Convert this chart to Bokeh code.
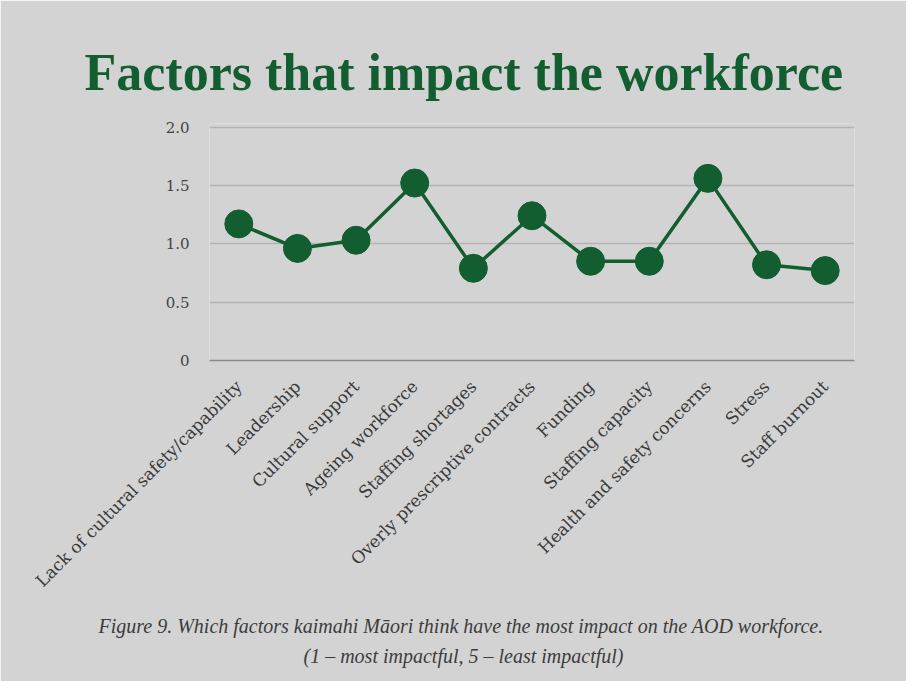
import math
from bokeh.plotting import figure
from bokeh.models import FactorRange, Range1d, FixedTicker, Title
from bokeh.embed import file_html
from bokeh.resources import INLINE

factors = [
    "Lack of cultural safety/capability",
    "Leadership",
    "Cultural support",
    "Ageing workforce",
    "Staffing shortages",
    "Overly prescriptive contracts",
    "Funding",
    "Staffing capacity",
    "Health and safety concerns",
    "Stress",
    "Staff burnout",
]
scores = [1.17, 0.96, 1.03, 1.52, 0.79, 1.24, 0.85, 0.85, 1.56, 0.82, 0.77]
y_ticks = [0, 0.5, 1.0, 1.5, 2.0]
y_tick_labels = ["0", "0.5", "1.0", "1.5", "2.0"]

title_text = "Factors that impact the workforce"
caption_1 = "Figure 9. Which factors kaimahi Māori think have the most impact on the AOD workforce."
caption_2 = "(1 – most impactful, 5 – least impactful)"

BG = "#d3d3d3"
GREEN = "#135e30"

p = figure(
    width=906, height=681,
    x_range=FactorRange(*factors, range_padding=0),
    y_range=Range1d(0, 2.03),
    output_backend="svg", toolbar_location=None,
    min_border_left=209, min_border_right=52,
    min_border_top=123, min_border_bottom=321,
    border_fill_color=BG, background_fill_color=BG,
    outline_line_color=None,
)

p.line(factors, scores, line_color=GREEN, line_width=3.5)
p.scatter(factors, scores, size=28, fill_color=GREEN, line_color=GREEN)

# grid
p.xgrid.grid_line_color = None
p.ygrid.grid_line_color = "#b3b3b3"
p.ygrid.grid_line_width = 1.5
p.yaxis.ticker = FixedTicker(ticks=y_ticks)
p.yaxis.major_label_overrides = {t: l for t, l in zip(y_ticks, y_tick_labels)}

# y axis
p.yaxis.axis_line_color = None
p.yaxis.major_tick_line_color = None
p.yaxis.minor_tick_line_color = None
p.yaxis.major_label_standoff = 14
p.yaxis.major_label_text_font = "DejaVu Serif"
p.yaxis.major_label_text_font_size = "15px"
p.yaxis.major_label_text_color = "#444444"

# x axis
p.xaxis.axis_line_color = "#8a8a8a"
p.xaxis.axis_line_width = 1.5
p.xaxis.major_tick_line_color = None
p.xaxis.minor_tick_line_color = None
p.xaxis.major_label_orientation = math.pi / 4
p.xaxis.major_label_standoff = 17
p.xaxis.major_label_text_font = "DejaVu Serif"
p.xaxis.major_label_text_font_size = "17px"
p.xaxis.major_label_text_color = "#3a3a3a"

# title
p.title.text = title_text
p.title.align = "left"
p.title.offset = -125
p.title.standoff = 45
p.title.text_font = "Liberation Serif"
p.title.text_font_style = "bold"
p.title.text_font_size = "52px"
p.title.text_color = GREEN

# caption: two lines, second line indented so that it sits centred under the first
indent = "\u00a0" * 41
caption = Title(text=caption_1 + "\n" + indent + caption_2,
                align="left", offset=-111, standoff=25,
                text_font="Liberation Serif", text_font_style="italic",
                text_font_size="20px", text_color="#3c3c3c",
                text_line_height=1.35)
p.add_layout(caption, "below")

open("out.html", "w").write(file_html(p, INLINE))
